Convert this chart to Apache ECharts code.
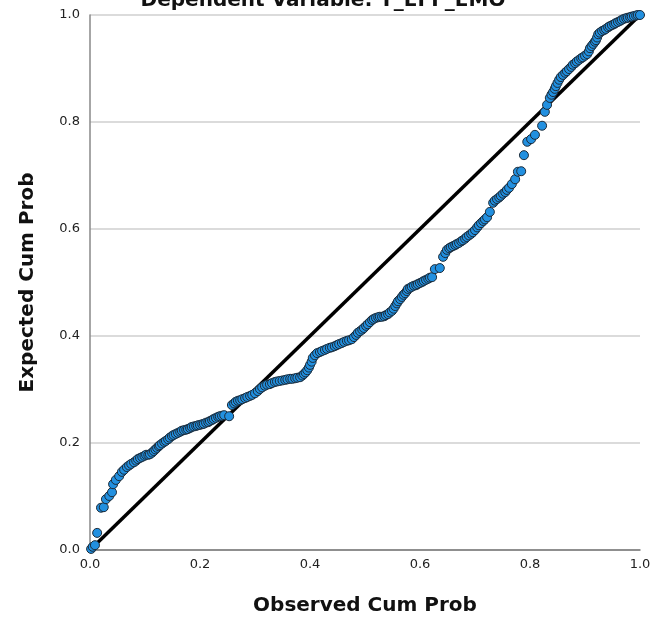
<!DOCTYPE html>
<html>
<head>
<meta charset="utf-8">
<script src="https://cdn.jsdelivr.net/npm/echarts@6/dist/echarts.min.js"></script>
<style>
  html, body { margin: 0; padding: 0; background: #fff; }
  #chart { width: 657px; height: 624px; }
</style>
</head>
<body>
<div id="chart"></div>
<script>
// P-P plot values
const observedCumProb = [
  0.002, 0.005, 0.009, 0.013, 0.020, 0.025, 0.029, 0.035, 0.040, 0.042,
  0.047, 0.053, 0.058, 0.062, 0.067, 0.071, 0.075, 0.080, 0.084, 0.087,
  0.091, 0.095, 0.099, 0.102, 0.106, 0.109, 0.113, 0.116, 0.119, 0.122,
  0.125, 0.127, 0.131, 0.135, 0.138, 0.142, 0.145, 0.149, 0.152, 0.156,
  0.160, 0.164, 0.167, 0.171, 0.175, 0.178, 0.182, 0.185, 0.189, 0.193,
  0.196, 0.200, 0.204, 0.207, 0.211, 0.215, 0.218, 0.222, 0.225, 0.229,
  0.233, 0.236, 0.240, 0.244, 0.253, 0.258, 0.262, 0.265, 0.269, 0.273,
  0.277, 0.282, 0.286, 0.291, 0.295, 0.300, 0.305, 0.309, 0.313, 0.318,
  0.322, 0.327, 0.331, 0.336, 0.340, 0.345, 0.350, 0.355, 0.359, 0.364,
  0.368, 0.373, 0.377, 0.382, 0.386, 0.389, 0.392, 0.395, 0.398, 0.400,
  0.403, 0.405, 0.409, 0.413, 0.418, 0.422, 0.427, 0.431, 0.436, 0.440,
  0.445, 0.449, 0.453, 0.458, 0.462, 0.467, 0.471, 0.476, 0.480, 0.484,
  0.487, 0.491, 0.495, 0.498, 0.502, 0.505, 0.509, 0.513, 0.516, 0.520,
  0.524, 0.527, 0.531, 0.535, 0.538, 0.542, 0.545, 0.549, 0.552, 0.555,
  0.558, 0.560, 0.564, 0.567, 0.570, 0.573, 0.576, 0.578, 0.582, 0.585,
  0.589, 0.593, 0.596, 0.600, 0.604, 0.607, 0.611, 0.615, 0.618, 0.622,
  0.627, 0.636, 0.642, 0.646, 0.649, 0.653, 0.656, 0.660, 0.664, 0.667,
  0.671, 0.675, 0.678, 0.682, 0.685, 0.689, 0.693, 0.696, 0.700, 0.704,
  0.707, 0.711, 0.715, 0.718, 0.722, 0.727, 0.733, 0.736, 0.740, 0.744,
  0.747, 0.751, 0.755, 0.758, 0.762, 0.767, 0.773, 0.778, 0.784, 0.789,
  0.795, 0.802, 0.809, 0.822, 0.827, 0.831, 0.836, 0.839, 0.842, 0.845,
  0.847, 0.850, 0.853, 0.856, 0.860, 0.864, 0.867, 0.871, 0.875, 0.878,
  0.882, 0.885, 0.889, 0.893, 0.896, 0.900, 0.904, 0.907, 0.909, 0.912,
  0.915, 0.918, 0.920, 0.922, 0.924, 0.927, 0.931, 0.935, 0.938, 0.942,
  0.945, 0.949, 0.953, 0.956, 0.960, 0.964, 0.967, 0.971, 0.975, 0.978,
  0.982, 0.985, 0.989, 0.993, 0.996, 1.000
]
const expectedCumProb = [
  0.002, 0.006, 0.009, 0.032, 0.079, 0.080, 0.095, 0.101, 0.108, 0.123,
  0.131, 0.138, 0.146, 0.150, 0.155, 0.158, 0.161, 0.164, 0.167, 0.170,
  0.172, 0.174, 0.176, 0.178, 0.178, 0.179, 0.182, 0.185, 0.188, 0.191,
  0.194, 0.196, 0.199, 0.202, 0.204, 0.207, 0.210, 0.213, 0.215, 0.217,
  0.219, 0.221, 0.223, 0.224, 0.225, 0.226, 0.228, 0.230, 0.231, 0.232,
  0.233, 0.234, 0.235, 0.236, 0.238, 0.239, 0.241, 0.243, 0.245, 0.247,
  0.249, 0.250, 0.251, 0.252, 0.250, 0.271, 0.274, 0.277, 0.279, 0.280,
  0.282, 0.284, 0.286, 0.288, 0.290, 0.293, 0.297, 0.301, 0.304, 0.307,
  0.309, 0.310, 0.312, 0.314, 0.315, 0.316, 0.317, 0.318, 0.319, 0.320,
  0.320, 0.321, 0.322, 0.323, 0.326, 0.329, 0.332, 0.336, 0.341, 0.346,
  0.352, 0.359, 0.364, 0.368, 0.370, 0.372, 0.374, 0.376, 0.378, 0.379,
  0.381, 0.383, 0.385, 0.387, 0.389, 0.391, 0.392, 0.394, 0.398, 0.402,
  0.406, 0.409, 0.412, 0.415, 0.419, 0.422, 0.426, 0.430, 0.432, 0.434,
  0.435, 0.436, 0.436, 0.437, 0.439, 0.441, 0.444, 0.447, 0.451, 0.456,
  0.461, 0.465, 0.469, 0.473, 0.477, 0.480, 0.484, 0.488, 0.490, 0.492,
  0.494, 0.495, 0.497, 0.499, 0.501, 0.503, 0.505, 0.507, 0.509, 0.510,
  0.525, 0.527, 0.548, 0.555, 0.561, 0.564, 0.566, 0.568, 0.570, 0.572,
  0.574, 0.577, 0.579, 0.582, 0.585, 0.588, 0.591, 0.594, 0.598, 0.603,
  0.607, 0.611, 0.615, 0.618, 0.622, 0.632, 0.649, 0.653, 0.656, 0.659,
  0.662, 0.666, 0.669, 0.673, 0.677, 0.684, 0.693, 0.707, 0.708, 0.738,
  0.763, 0.768, 0.776, 0.793, 0.819, 0.832, 0.845, 0.851, 0.856, 0.862,
  0.867, 0.873, 0.879, 0.884, 0.888, 0.892, 0.895, 0.899, 0.903, 0.907,
  0.910, 0.913, 0.916, 0.919, 0.921, 0.924, 0.927, 0.932, 0.938, 0.942,
  0.946, 0.950, 0.953, 0.958, 0.964, 0.967, 0.970, 0.972, 0.974, 0.977,
  0.979, 0.981, 0.983, 0.985, 0.987, 0.989, 0.991, 0.993, 0.994, 0.995,
  0.996, 0.997, 0.998, 0.999, 1.000, 1.000
]
const refLine = [[0, 0], [1, 1]]

const points = observedCumProb.map((x, i) => [x, expectedCumProb[i]])

const chart = echarts.init(document.getElementById('chart'))

const axisLabelStyle = {
  fontFamily: 'DejaVu Sans',
  fontSize: 13,
  color: '#222',
  formatter: v => v.toFixed(1),
}

chart.setOption({
  animation: false,
  title: {
    text: 'Dependent Variable: Y_EFF_EMO',
    left: 318,
    textAlign: 'center',
    top: -14,
    textStyle: {
      fontFamily: 'DejaVu Sans',
      fontSize: 20,
      fontWeight: 'bold',
      color: '#111',
    },
  },
  grid: {
    left: 90,
    right: 17,
    top: 15,
    bottom: 74,
  },
  xAxis: {
    type: 'value',
    min: 0,
    max: 1,
    interval: 0.2,
    name: 'Observed Cum Prob',
    nameLocation: 'middle',
    nameGap: 46,
    nameTextStyle: {
      fontFamily: 'DejaVu Sans',
      fontSize: 20,
      fontWeight: 'bold',
      color: '#111',
    },
    axisLine: { show: true, lineStyle: { color: '#777', width: 1.5 } },
    axisTick: { show: false },
    splitLine: { show: false },
    axisLabel: { ...axisLabelStyle, margin: 8 },
  },
  yAxis: {
    type: 'value',
    min: 0,
    max: 1,
    interval: 0.2,
    name: 'Expected Cum Prob',
    nameLocation: 'middle',
    nameGap: 52,
    nameTextStyle: {
      fontFamily: 'DejaVu Sans',
      fontSize: 20,
      fontWeight: 'bold',
      color: '#111',
    },
    axisLine: { show: true, lineStyle: { color: '#888', width: 1.5 } },
    axisTick: { show: false },
    splitLine: { show: true, lineStyle: { color: '#cfcfcf', width: 1.5 } },
    axisLabel: { ...axisLabelStyle, margin: 10 },
  },
  series: [
    {
      type: 'line',
      data: refLine,
      symbol: 'none',
      lineStyle: { color: '#000', width: 3.5 },
      z: 3,
    },
    {
      type: 'scatter',
      data: points,
      symbolSize: 9,
      itemStyle: {
        color: '#2290e0',
        borderColor: '#1b2a38',
        borderWidth: 1,
        opacity: 1,
      },
      z: 4,
    },
  ],
})
</script>
</body>
</html>
